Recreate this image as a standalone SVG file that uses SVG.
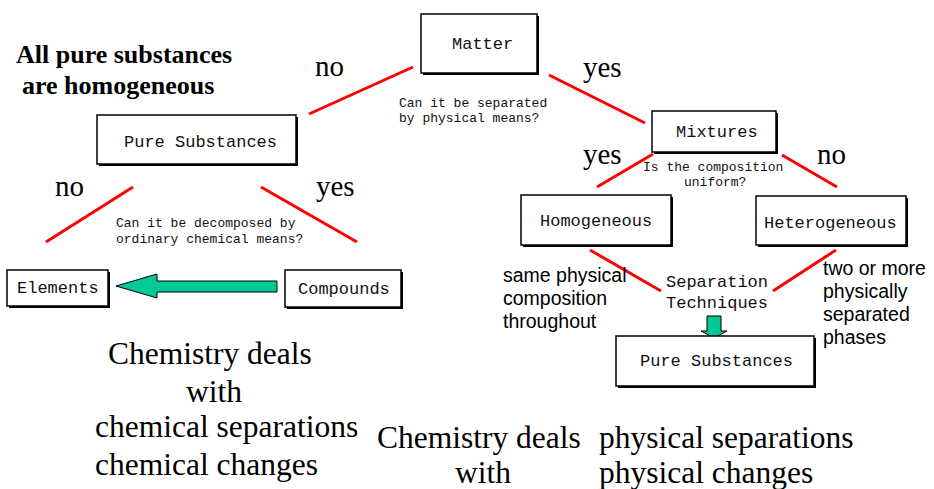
<svg xmlns="http://www.w3.org/2000/svg" width="934" height="489" viewBox="0 0 934 489">
<style>
.box{fill:#fff;stroke:#000;stroke-width:1.5}
.sh{fill:#000}
.mono{font-family:"Liberation Mono","Courier New",monospace;font-size:17px;fill:#111}
.q{font-family:"Liberation Mono","Courier New",monospace;font-size:13px;fill:#111}
.yn{font-family:"Liberation Serif","Times New Roman",serif;font-size:29px;fill:#000}
.big{font-family:"Liberation Serif","Times New Roman",serif;font-size:31.5px;fill:#000}
.hdr{font-family:"Liberation Serif","Times New Roman",serif;font-size:26px;font-weight:bold;fill:#000}
.sans{font-family:"Liberation Sans",Arial,sans-serif;font-size:19.5px;fill:#000}
.red{stroke:#f00;stroke-width:3;fill:none}
.arr{fill:#00c896;stroke:#000;stroke-width:1}
</style>
<rect width="934" height="489" fill="#fff"/>
<g id="connectors">
<line class="red" x1="413" y1="67" x2="309" y2="114"/>
<line class="red" x1="549" y1="75" x2="645" y2="123"/>
<line class="red" x1="133" y1="187" x2="46" y2="242"/>
<line class="red" x1="261" y1="187" x2="357" y2="242"/>
<line class="red" x1="653" y1="154" x2="597" y2="187"/>
<line class="red" x1="782" y1="155" x2="837" y2="187"/>
<line class="red" x1="590" y1="250" x2="661" y2="291"/>
<line class="red" x1="836" y1="250" x2="773" y2="291"/>
<polygon class="arr" points="277,281 157,281 157,274 116,286 157,298 157,292 277,292"/>
<polygon class="arr" points="707,316 721,316 721,331 727,331 714,338 701,331 707,331"/>
</g>
<g id="labels">
<text class="yn" x="315" y="76">no</text>
<text class="yn" x="583" y="77">yes</text>
<text class="yn" x="55" y="196">no</text>
<text class="yn" x="316" y="196">yes</text>
<text class="yn" x="583" y="164">yes</text>
<text class="yn" x="817" y="164">no</text>
<text class="q" x="399" y="107">Can it be separated</text>
<text class="q" x="399" y="122">by physical means?</text>
<text class="q" x="116" y="227">Can it be decomposed by</text>
<text class="q" x="116" y="243">ordinary chemical means?</text>
<text class="q" x="643" y="171">Is the composition</text>
<text class="q" x="684" y="186">uniform?</text>
<text class="mono" x="666" y="287">Separation</text>
<text class="mono" x="666" y="308">Techniques</text>
<text class="sans" x="503" y="282">same physical</text>
<text class="sans" x="503" y="305">composition</text>
<text class="sans" x="503" y="328">throughout</text>
<text class="sans" x="823" y="275">two or more</text>
<text class="sans" x="823" y="298">physically</text>
<text class="sans" x="823" y="321">separated</text>
<text class="sans" x="823" y="344">phases</text>
<text class="hdr" x="16" y="63">All pure substances</text>
<text class="hdr" x="22" y="94">are homogeneous</text>
<text class="big" x="108" y="364">Chemistry deals</text>
<text class="big" x="186" y="402">with</text>
<text class="big" x="95" y="437">chemical separations</text>
<text class="big" x="95" y="475">chemical changes</text>
<text class="big" x="377" y="448">Chemistry deals</text>
<text class="big" x="455" y="483">with</text>
<text class="big" x="599" y="448">physical separations</text>
<text class="big" x="599" y="483">physical changes</text>
</g>
<g id="matter"><rect class="sh" x="423" y="16" width="116" height="59"/><rect class="box" x="421" y="14" width="116" height="59"/><text class="mono" x="452" y="49">Matter</text></g>
<g id="pure-left"><rect class="sh" x="99" y="117" width="199" height="49"/><rect class="box" x="97" y="115" width="199" height="49"/><text class="mono" x="124" y="147">Pure Substances</text></g>
<g id="mixtures"><rect class="sh" x="654" y="113" width="124" height="41"/><rect class="box" x="652" y="111" width="124" height="41"/><text class="mono" x="676" y="137">Mixtures</text></g>
<g id="homogeneous"><rect class="sh" x="523" y="197" width="150" height="50"/><rect class="box" x="521" y="195" width="150" height="50"/><text class="mono" x="540" y="226">Homogeneous</text></g>
<g id="heterogeneous"><rect class="sh" x="758" y="198" width="150" height="49"/><rect class="box" x="756" y="196" width="150" height="49"/><text class="mono" x="764" y="228">Heterogeneous</text></g>
<g id="elements"><rect class="sh" x="9" y="272" width="101" height="36"/><rect class="box" x="7" y="270" width="101" height="36"/><text class="mono" x="17" y="293">Elements</text></g>
<g id="compounds"><rect class="sh" x="287" y="272" width="116" height="37"/><rect class="box" x="285" y="270" width="116" height="37"/><text class="mono" x="298" y="294">Compounds</text></g>
<g id="pure-right"><rect class="sh" x="618" y="338" width="198" height="50"/><rect class="box" x="616" y="336" width="198" height="50"/><text class="mono" x="640" y="366">Pure Substances</text></g>
</svg>
